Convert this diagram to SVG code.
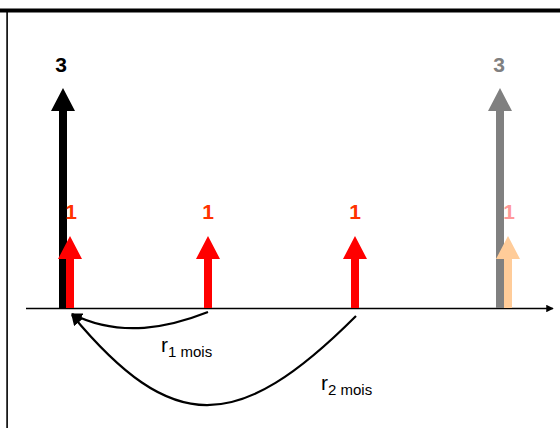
<svg xmlns="http://www.w3.org/2000/svg" width="560" height="428" viewBox="0 0 560 428">
<defs>
<style>
.lbl{font-family:"Liberation Sans",Arial,sans-serif;font-weight:bold;font-size:21px;text-anchor:middle}
.rl{font-family:"Liberation Sans",Arial,sans-serif;fill:#000}
.conn{fill:none;stroke:#000;stroke-width:2.2}
</style>
<marker id="ah" viewBox="0 0 10 10" refX="9" refY="5" markerWidth="5" markerHeight="5" orient="auto" markerUnits="strokeWidth">
<path d="M0,0 L10,5 L0,10 Z" fill="#000"/>
</marker>
<marker id="axh" viewBox="0 0 10 10" refX="9" refY="5" markerWidth="5" markerHeight="5" orient="auto" markerUnits="strokeWidth">
<path d="M0,0 L10,5 L0,10 Z" fill="#000"/>
</marker>
</defs>
<rect width="560" height="428" fill="#fff"/>
<g id="frame">
<rect x="0" y="8.5" width="560" height="4" fill="#000"/>
<rect x="6.3" y="12" width="1.6" height="416" fill="#000"/>
</g>
<g id="axis">
<line x1="26" y1="308.5" x2="553" y2="308.5" stroke="#000" stroke-width="1.5" marker-end="url(#axh)"/>
</g>
<g id="flow-black-3">
<path d="M59,308 L59,111 L51,111 L63,88 L75,111 L67,111 L67,308 Z" fill="#000"/>
<text class="lbl" x="61" y="72" fill="#000">3</text>
</g>
<g id="flow-red-1a">
<path d="M66,308 L66,259 L58,259 L70,236 L82,259 L74,259 L74,308 Z" fill="#ff0000"/>
<text class="lbl" x="71" y="219" fill="#ff3300">1</text>
</g>
<g id="flow-red-1b">
<path d="M204,308 L204,259 L196,259 L208,236 L220,259 L212,259 L212,308 Z" fill="#ff0000"/>
<text class="lbl" x="208" y="219" fill="#ff3300">1</text>
</g>
<g id="flow-red-1c">
<path d="M351,308 L351,259 L343,259 L355,236 L367,259 L359,259 L359,308 Z" fill="#ff0000"/>
<text class="lbl" x="355" y="219" fill="#ff3300">1</text>
</g>
<g id="flow-gray-3">
<path d="M496,308 L496,111 L488,111 L500,88 L512,111 L504,111 L504,308 Z" fill="#808080"/>
<text class="lbl" x="499" y="72" fill="#808080">3</text>
</g>
<g id="flow-peach-1">
<path d="M504,308 L504,259 L496,259 L508,236 L520,259 L512,259 L512,308 Z" fill="#ffcc99"/>
<text class="lbl" x="509" y="219" fill="#ff9999">1</text>
</g>
<g id="connectors">
<path class="conn" d="M208,312 C170,327 121,338.5 72,314" marker-end="url(#ah)"/>
<path class="conn" d="M356,316 C237,435 172,435 72,315" marker-end="url(#ah)"/>
</g>
<g id="label-r1">
<text class="rl" x="161" y="352" font-size="21">r<tspan font-size="15" dy="5">1 mois</tspan></text>
</g>
<g id="label-r2">
<text class="rl" x="321" y="390" font-size="21">r<tspan font-size="15" dy="5">2 mois</tspan></text>
</g>
</svg>
